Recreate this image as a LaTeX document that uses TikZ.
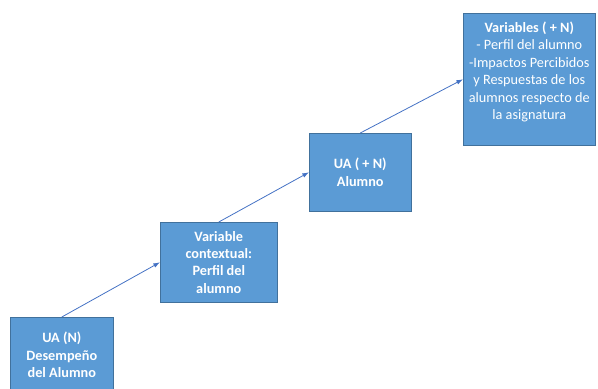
\documentclass[tikz,border=0pt]{standalone}
\usepackage{fontspec}
\setmainfont{Carlito}
\usetikzlibrary{arrows.meta, positioning}
\definecolor{boxfill}{HTML}{5B9BD5}
\definecolor{boxline}{HTML}{41719C}
\definecolor{linkline}{HTML}{4472C4}

\begin{document}
\begin{tikzpicture}[x=0.75pt, y=-0.75pt,
  every node/.style={font=\fontsize{10.7}{13.1}\selectfont},
  ubox/.style={draw=boxline, fill=boxfill, text=white, align=center, anchor=north west, inner sep=2pt},
  link/.style={draw=linkline, line width=0.6pt, -{Latex[length=5pt, width=3.5pt]}}]

\useasboundingbox (0,0) rectangle (598,388);

% Unidades de analisis, de abajo hacia arriba
\node[ubox, minimum width=77.3pt, minimum height=56.3pt, font=\fontsize{10.7}{13.1}\selectfont\bfseries]
  (desempeno) at (10,317) {UA (N)\\Desempeño\\del Alumno};

\node[ubox, minimum width=87.8pt, minimum height=60pt, font=\fontsize{10.7}{13.1}\selectfont\bfseries]
  (contexto) at (160,222) {Variable\\contextual:\\Perfil del\\alumno};

\node[ubox, minimum width=76.5pt, minimum height=58.5pt, font=\fontsize{10.7}{13.1}\selectfont\bfseries]
  (alumno) at (309,133) {UA ( + N)\\Alumno};

\node[ubox, minimum width=99pt, minimum height=99pt]
  (variables) at (463,13) {\textbf{Variables ( + N)}\\- Perfil del alumno\\-Impactos Percibidos\\y Respuestas de los\\alumnos respecto de\\la asignatura\\};

% Flechas
\draw[link] (desempeno.north) -- (contexto.west);
\draw[link] (contexto.north) -- (alumno.west);
\draw[link] (alumno.north) -- (variables.west);

\end{tikzpicture}
\end{document}
